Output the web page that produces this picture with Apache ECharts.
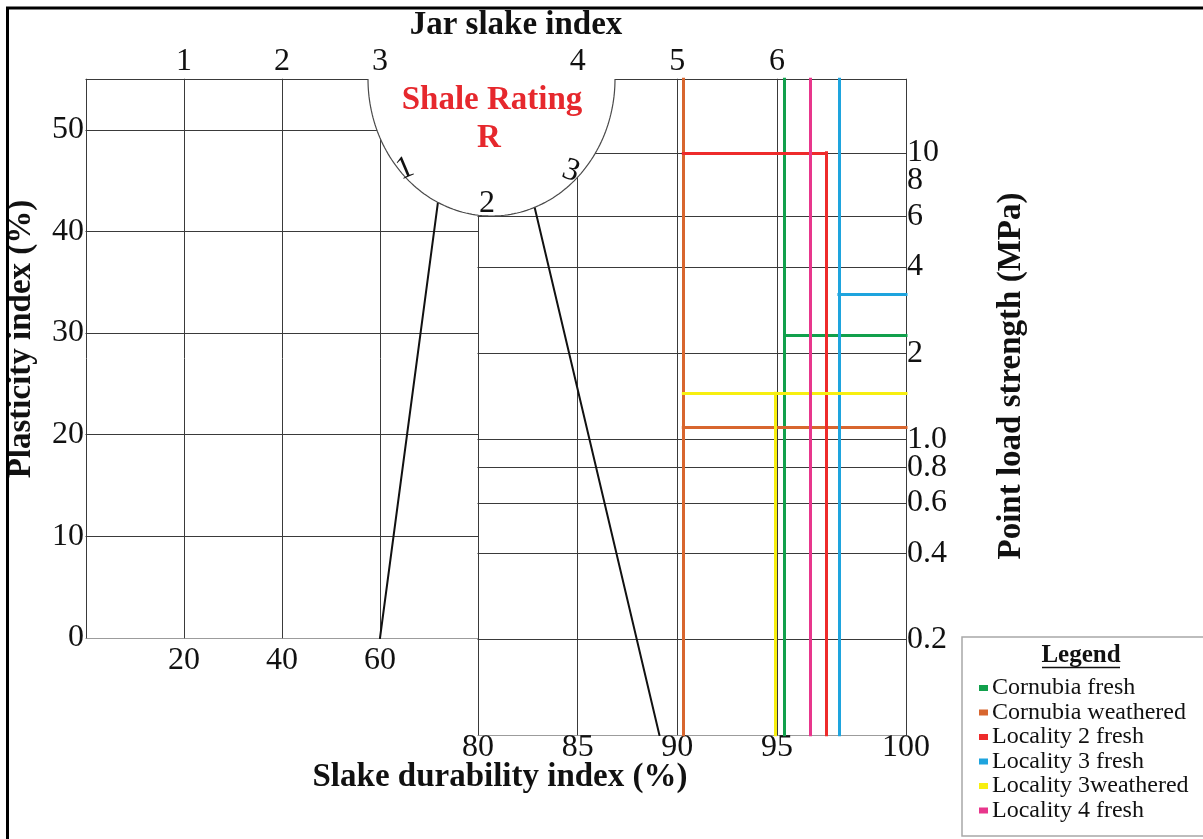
<!DOCTYPE html>
<html>
<head>
<meta charset="utf-8">
<title>Shale rating chart</title>
<script src="https://cdn.jsdelivr.net/npm/echarts@6/dist/echarts.min.js"></script>
<style>
  html, body { margin: 0; padding: 0; background: #ffffff; }
  #chart { width: 1203px; height: 839px; }
</style>
</head>
<body>
<div id="chart"></div>
<script>
// ---------------- data ----------------
// Lower scale of the plasticity panel and plasticity index ticks (%)
const leftScaleTicks = [20, 40, 60];
const plasticityTicks = [0, 10, 20, 30, 40, 50];
// Jar slake index marks along the upper edge
const jarSlakeLabels = ['1', '2', '3', '4', '5', '6'];
// Slake durability index ticks (%)
const slakeTicks = [80, 85, 90, 95, 100];
// Point load strength ticks (MPa)
const pointLoadTicks = [0.2, 0.4, 0.6, 0.8, 1, 2, 4, 6, 8, 10];
const pointLoadTickLabels = ['0.2', '0.4', '0.6', '0.8', '1.0', '2', '4', '6', '8', '10'];
const pointLoadGridValues = [0.2, 0.4, 0.6, 0.8, 1, 2, 4, 6, 10];
// Shale rating dial marks
const ratingLabels = ['1', '2', '3'];

// Samples
const sampleNames = ['Cornubia fresh', 'Cornubia weathered', 'Locality 2 fresh',
                     'Locality 3 fresh', 'Locality 3weathered', 'Locality 4 fresh'];
// Slake durability index of each sample (%)
const slakeDurability = [95.3, 90.3, 96.9, 97.4, 94.9, 96.3];
// Point load strength of each sample (MPa); null = not plotted
const pointLoadStrength = [2.3, 1.1, 10, 3.2, 1.45, null];
// Extent of each point load line along the slake durability scale (%)
const pointLoadFrom = [95.3, 90.3, 90.3, 97.4, 90.3, null];
const pointLoadTo = [100, 100, 96.9, 100, 100, null];
// Upper end of each slake durability line (MPa); null = full height
const slakeLineTop = [null, null, 10, null, 1.45, null];

// Construction lines running into the shale rating dial
const guidePlasticity = [[60, 0], [72, 43.5]];   // (left scale, plasticity index)
const guideSlake = [[82.7, 7.1], [89.1, 0.093]];  // (slake durability, point load)

// ---------------- layout & style ----------------
const LEFT_X = [0, 80];
const PI_RANGE = [0, 55];
const SLAKE_A = [80, 95];
const SLAKE_B = [95, 100];
const PL_RANGE = [0.093, 18.1];

const FONT = '"Liberation Serif", "Times New Roman", serif';
const INK = '#111111';
const GRID_INK = '#3a3a3a';
const sampleColours = ['#11a04c', '#d8662f', '#ee2b2b', '#1ea4de', '#f7ef10', '#e8368c'];
const DIAL = { cx: 491.5, cy: 79, rx: 123.5, ry: 137 };

const hidden = { axisLine: { show: false }, axisTick: { show: false }, splitLine: { show: false } };
const tickText = { fontFamily: FONT, fontSize: 32, color: INK, lineHeight: 24,
                   hideOverlap: false, showMinLabel: true, showMaxLabel: true };

// ---------------- helpers ----------------
const hSeg = (y, x1, x2) => ({ coords: [[x1, y], [x2, y]] });
const vSeg = (x, y1, y2) => ({ coords: [[x, y1], [x, y2]] });

// keep the part of an axis-aligned segment inside a slake durability panel
function clipToPanel(seg, range, isLast) {
  const [[x1, y1], [x2, y2]] = seg.coords;
  if (x1 === x2) {
    const inside = x1 >= range[0] && (isLast ? x1 <= range[1] : x1 < range[1]);
    return inside ? seg : null;
  }
  const a = Math.max(Math.min(x1, x2), range[0]);
  const b = Math.min(Math.max(x1, x2), range[1]);
  return a < b ? { coords: [[a, y1], [b, y2]] } : null;
}
const panelA = segs => segs.map(s => clipToPanel(s, SLAKE_A, false)).filter(Boolean);
const panelB = segs => segs.map(s => clipToPanel(s, SLAKE_B, true)).filter(Boolean);

function linesSeries(name, xAxisIndex, yAxisIndex, data, colour, width, z) {
  return {
    type: 'lines', name, coordinateSystem: 'cartesian2d',
    xAxisIndex, yAxisIndex, data, polyline: false, silent: true, z,
    lineStyle: { color: colour, width, opacity: 1, cap: 'square' },
    animation: false
  };
}

// gridwork
const leftGrid = [
  ...plasticityTicks.concat([PI_RANGE[1]]).map(p => hSeg(p, LEFT_X[0], LEFT_X[1])),
  ...[LEFT_X[0]].concat(leftScaleTicks).map(x => vSeg(x, PI_RANGE[0], PI_RANGE[1]))
];
const rightGrid = [
  ...[PL_RANGE[0]].concat(pointLoadGridValues, [PL_RANGE[1]]).map(p => hSeg(p, SLAKE_A[0], SLAKE_B[1])),
  ...slakeTicks.map(x => vSeg(x, PL_RANGE[0], PL_RANGE[1]))
];

// sample traces
function sampleSegments(i) {
  const segs = [vSeg(slakeDurability[i], PL_RANGE[0], slakeLineTop[i] == null ? PL_RANGE[1] : slakeLineTop[i])];
  if (pointLoadStrength[i] != null) segs.push(hSeg(pointLoadStrength[i], pointLoadFrom[i], pointLoadTo[i]));
  return segs;
}

const series = [
  linesSeries('grid-left', 0, 0, leftGrid, GRID_INK, 1, 2),
  linesSeries('grid-a', 2, 1, panelA(rightGrid), GRID_INK, 1, 2),
  linesSeries('grid-b', 4, 2, panelB(rightGrid), GRID_INK, 1, 2),
  linesSeries('guide-left', 0, 0, [{ coords: guidePlasticity }], '#111', 2, 3),
  linesSeries('guide-right', 2, 1, [{ coords: guideSlake }], '#111', 2, 3)
];
sampleNames.forEach((name, i) => {
  const segs = sampleSegments(i);
  series.push(linesSeries(name, 2, 1, panelA(segs), sampleColours[i], 3, 4));
  series.push(linesSeries(name, 4, 2, panelB(segs), sampleColours[i], 3, 4));
});

// shale rating dial outline
const dialArc = [];
for (let k = 0; k <= 120; k++) {
  const t = Math.PI * k / 120;
  dialArc.push([DIAL.cx + DIAL.rx * Math.cos(t), DIAL.cy + DIAL.ry * Math.sin(t)]);
}
const bold = size => 'bold ' + size + 'px ' + FONT;
const plain = size => size + 'px ' + FONT;
const txt = (text, x, y, font, fill, extra) => Object.assign({
  type: 'text', x, y, silent: true, z: 12,
  style: { text, font, fill, align: 'center', verticalAlign: 'middle' }
}, extra || {});

const graphics = [
  { type: 'polygon', silent: true, z: 10,
    shape: { points: [[DIAL.cx + DIAL.rx, DIAL.cy - 2]].concat(dialArc, [[DIAL.cx - DIAL.rx, DIAL.cy - 2]]) },
    style: { fill: '#ffffff', lineWidth: 0 } },
  { type: 'polyline', silent: true, z: 11, shape: { points: dialArc },
    style: { stroke: '#4a4a4a', lineWidth: 1.2, fill: null } },
  txt('Shale Rating', 492, 100, bold(33), '#e6282d'),
  txt('R', 489, 138, bold(33), '#e6282d'),
  txt(ratingLabels[0], 405, 169, plain(32), INK, { rotation: 0.4 }),
  txt(ratingLabels[1], 487, 204, plain(32), INK),
  txt(ratingLabels[2], 571, 171, plain(32), INK, { rotation: -0.35 }),
  // axis titles
  txt('Jar slake index', 516, 25, bold(33), INK),
  txt('Slake durability index (%)', 500, 777, bold(33), INK),
  txt('Plasticity index (%)', 21, 339, bold(33), INK, { rotation: Math.PI / 2 }),
  txt('Point load strength (MPa)', 1011, 376, bold(33), INK, { rotation: Math.PI / 2 }),
  // legend box
  { type: 'rect', silent: true, z: 3, shape: { x: 962, y: 637, width: 300, height: 199 },
    style: { fill: '#ffffff', stroke: '#a8a8a8', lineWidth: 1.5 } },
  txt('Legend', 1081, 656, bold(25), INK, { z: 5 }),
  { type: 'line', silent: true, z: 5, shape: { x1: 1042, y1: 667.5, x2: 1120, y2: 667.5 },
    style: { stroke: INK, lineWidth: 1.5 } },
  // outer frame
  { type: 'rect', silent: true, z: 20, shape: { x: 7.5, y: 8, width: 1400, height: 1000 },
    style: { fill: null, stroke: '#000000', lineWidth: 3 } }
];

const jarMarksRight = slakeTicks.slice(1, 4);

// point load labels sit close together near the top, so alternate ticks go on
// two coincident right-hand axes to keep every label visible
const plLabel = v => {
  let best = 0;
  pointLoadTicks.forEach((t, i) => {
    if (Math.abs(Math.log(t / v)) < Math.abs(Math.log(pointLoadTicks[best] / v))) best = i;
  });
  return pointLoadTickLabels[best];
};
const plAxis = ticks => ({
  gridIndex: 2, type: 'log', logBase: 10, position: 'right', min: PL_RANGE[0], max: PL_RANGE[1], ...hidden,
  axisLabel: { ...tickText, lineHeight: 16, margin: 1, customValues: ticks, formatter: plLabel }
});

const option = {
  animation: false,
  backgroundColor: '#ffffff',
  textStyle: { fontFamily: FONT },
  grid: [
    { left: 86, top: 79, width: 392, height: 559, outerBoundsMode: 'none' },
    { left: 478, top: 79, width: 299, height: 656, outerBoundsMode: 'none' },
    { left: 777, top: 79, width: 129, height: 656, outerBoundsMode: 'none' }
  ],
  xAxis: [
    { gridIndex: 0, type: 'value', position: 'bottom', min: LEFT_X[0], max: LEFT_X[1], ...hidden,
      axisLabel: { ...tickText, margin: 11, customValues: leftScaleTicks } },
    { gridIndex: 0, type: 'value', position: 'top', min: LEFT_X[0], max: LEFT_X[1], ...hidden,
      axisLabel: { ...tickText, margin: 5, customValues: leftScaleTicks,
        formatter: v => jarSlakeLabels[leftScaleTicks.indexOf(v)] } },
    { gridIndex: 1, type: 'value', position: 'bottom', min: SLAKE_A[0], max: SLAKE_A[1], ...hidden,
      axisLabel: { ...tickText, margin: 1, customValues: slakeTicks.filter(v => v < SLAKE_A[1]) } },
    { gridIndex: 1, type: 'value', position: 'top', min: SLAKE_A[0], max: SLAKE_A[1], ...hidden,
      axisLabel: { ...tickText, margin: 5, customValues: jarMarksRight,
        formatter: v => jarSlakeLabels[leftScaleTicks.length + jarMarksRight.indexOf(v)] } },
    { gridIndex: 2, type: 'value', position: 'bottom', min: SLAKE_B[0], max: SLAKE_B[1], ...hidden,
      axisLabel: { ...tickText, margin: 1, customValues: slakeTicks.filter(v => v >= SLAKE_B[0]) } }
  ],
  yAxis: [
    { gridIndex: 0, type: 'value', position: 'left', min: PI_RANGE[0], max: PI_RANGE[1], ...hidden,
      axisLabel: { ...tickText, margin: 2, customValues: plasticityTicks } },
    { gridIndex: 1, type: 'log', logBase: 10, min: PL_RANGE[0], max: PL_RANGE[1], ...hidden,
      axisLabel: { show: false } },
    plAxis(pointLoadTicks.filter((t, i) => i % 2 === 0)),
    plAxis(pointLoadTicks.filter((t, i) => i % 2 === 1))
  ],
  legend: {
    data: sampleNames, orient: 'vertical', left: 979, top: 676, padding: 0,
    itemGap: 0.5, itemWidth: 7, itemHeight: 4, icon: 'rect', selectedMode: false, z: 6,
    textStyle: { fontFamily: FONT, fontSize: 24, color: INK, lineHeight: 24 }
  },
  graphic: { elements: graphics },
  series
};

const chart = echarts.init(document.getElementById('chart'), null, { renderer: 'canvas' });
chart.setOption(option);
</script>
</body>
</html>
